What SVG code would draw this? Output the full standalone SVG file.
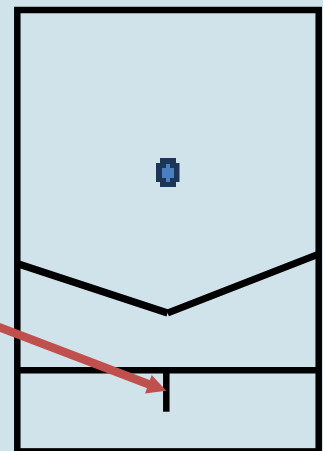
<svg xmlns="http://www.w3.org/2000/svg" width="323" height="451" viewBox="0 0 323 451">
  <style>
    .wall { fill: none; stroke: #000; stroke-width: 6.500; stroke-linejoin: miter; }
    .slope { stroke-width: 7.200; }
    .dark { fill: #1d3557; }
    .blue { fill: #4a7fc1; }
  </style>
  <rect x="0" y="0" width="323" height="451" fill="#d1e3ea"/>
  <g id="connectors">
    <rect class="wall" x="17.300" y="10" width="301.400" height="441.400"/>
    <path class="wall slope" d="M17 263.500L167.600 313"/>
    <path class="wall slope" d="M167.600 313L319 254"/>
    <path class="wall" d="M17 370.200H319"/>
    <path class="wall" d="M166.300 370V411.700"/>
    <path d="M-2 326.700L152 385.500" fill="none" stroke="#c0504d" stroke-width="8.500"/>
    <path d="M166.300 390.700L145 393.500L151.700 375Z" fill="#c0504d"/>
  </g>
  <g id="marker">
    <path class="dark" d="M160 158H176V163H179.500V182H176V187H160V182H156V163H160Z"/>
    <path class="blue" d="M166 164H170V168H174V178H170V182H166V178H162V168H166Z"/>
  </g>
</svg>
